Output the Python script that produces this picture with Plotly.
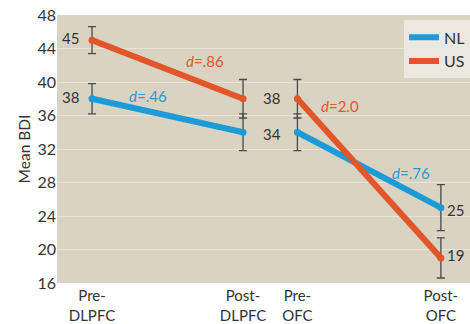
import plotly.graph_objects as go

# Session positions on a numeric axis (uneven spacing between the two protocols)
sessions = ["Pre-<br>DLPFC", "Post-<br>DLPFC", "Pre-<br>OFC", "Post-<br>OFC"]
session_x = [0, 1, 1.36, 2.31]

nl_mean = [38, 34, 34, 25]
nl_err = [1.8, 2.2, 2.2, 2.75]
us_mean = [45, 38, 38, 19]
us_err = [1.6, 2.3, 2.3, 2.4]

effect_labels = ["d=.46", "d=.76"]
effect_labels_us = ["d=.86", "d=2.0"]

BLUE = "#1c9bd8"
ORANGE = "#e2562a"
INK = "#333333"
FONT = "Lato"


def segmented(xs, ys):
    # break the line between the DLPFC pair and the OFC pair
    return xs[:2] + [None] + xs[2:], ys[:2] + [None] + ys[2:]


fig = go.Figure()

for means, errs in [(nl_mean, nl_err), (us_mean, us_err)]:
    # error bars (drawn underneath the lines)
    fig.add_trace(go.Scatter(
        x=session_x, y=means, mode="markers",
        marker=dict(size=0.1, color="rgba(0,0,0,0)"),
        error_y=dict(type="data", array=errs, color="#4a4a4a", thickness=1.3, width=4),
        showlegend=False, hoverinfo="skip",
    ))

for name, means, color in [("NL", nl_mean, BLUE), ("US", us_mean, ORANGE)]:
    sx, sy = segmented(session_x, means)
    fig.add_trace(go.Scatter(
        x=sx, y=sy, mode="lines+markers", name=name,
        line=dict(color=color, width=6),
        marker=dict(size=7, color=color),
        connectgaps=False, showlegend=False,
    ))
    # plain thick line as the legend key
    fig.add_trace(go.Scatter(
        x=[None], y=[None], mode="lines", name=name,
        line=dict(color=color, width=6),
    ))

annotations = []


def label(x, y, text, color, italic_d=False):
    if italic_d:
        text = "<i>d</i>" + text[1:]
    annotations.append(dict(x=x, y=y, text=text, showarrow=False,
                            font=dict(family=FONT, size=15, color=color),
                            xanchor="center", yanchor="middle"))


# effect sizes
label(0.37, 38.3, effect_labels[0], BLUE, True)
label(2.11, 29.1, effect_labels[1], BLUE, True)
label(0.75, 42.45, effect_labels_us[0], ORANGE, True)
label(1.64, 37.1, effect_labels_us[1], ORANGE, True)

# mean values
label(-0.14, us_mean[0] + 0.2, str(us_mean[0]), INK)
label(-0.14, nl_mean[0] + 0.2, str(nl_mean[0]), INK)
label(1.19, us_mean[2] + 0.1, str(us_mean[2]), INK)
label(1.19, nl_mean[2] - 0.2, str(nl_mean[2]), INK)
label(2.41, nl_mean[3] - 0.3, str(nl_mean[3]), INK)
label(2.41, us_mean[3] + 0.4, str(us_mean[3]), INK)

fig.update_layout(
    width=470, height=324,
    margin=dict(l=57, r=0, t=15, b=38),
    paper_bgcolor="white",
    plot_bgcolor="#d9d3c2",
    font=dict(family=FONT, size=15, color=INK),
    annotations=annotations,
    showlegend=True,
    legend=dict(
        x=1, y=0.98, xanchor="right", yanchor="top",
        bgcolor="#ebe8df", borderwidth=0,
        font=dict(family=FONT, size=16, color=INK),
        itemwidth=30, tracegroupgap=0,
    ),
    xaxis=dict(
        range=[-0.232, 2.503],
        tickvals=session_x, ticktext=sessions,
        showgrid=False, zeroline=False, showline=False,
        tickfont=dict(family=FONT, size=15, color=INK),
        ticks="", ticklabelstandoff=2,
    ),
    yaxis=dict(
        range=[16, 48], dtick=4, tick0=16,
        showgrid=True, gridcolor="#e8e3d6", gridwidth=1,
        zeroline=False, showline=False,
        tickfont=dict(family=FONT, size=16, color=INK),
        title=dict(text="Mean BDI", font=dict(family=FONT, size=15.5, color=INK), standoff=3),
        ticks="",
    ),
)

fig.write_html("out.html")
